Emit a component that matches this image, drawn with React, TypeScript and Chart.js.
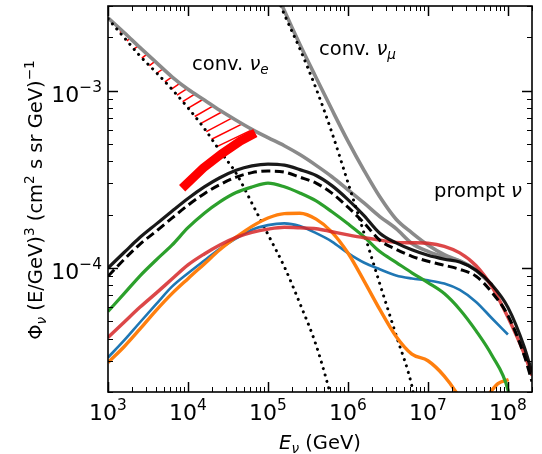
import React, { useEffect, useRef } from 'react';
import { Chart, registerables } from 'chart.js';
Chart.register(...registerables);

// ---------- data (E in GeV, flux Phi * (E/GeV)^3 in (cm^2 s sr GeV)^-1) ----------
const gridE = [1e3, 1.6e3, 2.5e3, 4e3, 6.3e3, 1e4, 1.6e4, 2.5e4, 4e4, 6.3e4, 1e5, 1.6e5, 2.5e5, 4e5, 6.3e5, 1e6, 1.6e6, 2.5e6, 4e6, 6.3e6, 1e7, 1.6e7, 2.5e7, 4e7, 6.3e7, 1e8, 1.6e8, 2e8];

const promptTotal = [1.0e-4, 1.227e-4, 1.485e-4, 1.768e-4, 2.09e-4, 2.466e-4, 2.865e-4, 3.228e-4, 3.555e-4, 3.765e-4, 3.855e-4, 3.8e-4, 3.587e-4, 3.323e-4, 2.913e-4, 2.43e-4, 1.967e-4, 1.57e-4, 1.386e-4, 1.267e-4, 1.18e-4, 1.121e-4, 1.08e-4, 9.72e-5, 8.04e-5, 6.0e-5, 3.59e-5, 2.575e-5];
const promptDashed = [8.98e-5, 1.12e-4, 1.361e-4, 1.612e-4, 1.909e-4, 2.26e-4, 2.626e-4, 2.951e-4, 3.254e-4, 3.45e-4, 3.518e-4, 3.473e-4, 3.254e-4, 3.01e-4, 2.642e-4, 2.203e-4, 1.789e-4, 1.434e-4, 1.275e-4, 1.164e-4, 1.091e-4, 1.036e-4, 9.83e-5, 8.98e-5, 7.29e-5, 5.4e-5, 3.21e-5, 2.29e-5];
const redE = gridE;
const redFlux = [4.06e-5, 4.96e-5, 6.0e-5, 7.22e-5, 8.66e-5, 1.041e-4, 1.2e-4, 1.349e-4, 1.489e-4, 1.589e-4, 1.657e-4, 1.696e-4, 1.685e-4, 1.665e-4, 1.601e-4, 1.538e-4, 1.481e-4, 1.436e-4, 1.395e-4, 1.388e-4, 1.379e-4, 1.326e-4, 1.217e-4, 1.03e-4, 7.85e-5, 5.27e-5, 3.28e-5, 2.48e-5];
const greenE = [1e3, 1.6e3, 2.5e3, 4e3, 6.3e3, 1e4, 1.6e4, 2.5e4, 4e4, 6.3e4, 1e5, 1.6e5, 2.5e5, 4e5, 6.3e5, 1e6, 1.6e6, 2.5e6, 4e6, 6.3e6, 1e7, 1.6e7, 2.5e7, 4e7, 6.3e7, 1e8, 1.12e8];
const greenFlux = [5.69e-5, 7.19e-5, 9.01e-5, 1.11e-4, 1.345e-4, 1.687e-4, 2.037e-4, 2.36e-4, 2.663e-4, 2.861e-4, 3.01e-4, 2.872e-4, 2.65e-4, 2.388e-4, 2.074e-4, 1.775e-4, 1.497e-4, 1.238e-4, 1.077e-4, 9.4e-5, 8.27e-5, 7.18e-5, 5.84e-5, 4.42e-5, 3.22e-5, 2.06e-5, 1.57e-5];
const blueE = [1e3, 1.6e3, 2.5e3, 4e3, 6.3e3, 1e4, 1.6e4, 2.5e4, 4e4, 6.3e4, 1e5, 1.6e5, 2.5e5, 4e5, 6.3e5, 1e6, 1.6e6, 2.5e6, 4e6, 6.3e6, 1e7, 1.6e7, 2.5e7, 4e7, 6.3e7, 1e8];
const blueFlux = [3.13e-5, 3.92e-5, 4.93e-5, 6.25e-5, 7.85e-5, 9.35e-5, 1.103e-4, 1.285e-4, 1.47e-4, 1.644e-4, 1.745e-4, 1.784e-4, 1.723e-4, 1.572e-4, 1.41e-4, 1.214e-4, 1.071e-4, 9.84e-5, 9.07e-5, 8.73e-5, 8.52e-5, 8.17e-5, 7.52e-5, 6.44e-5, 5.21e-5, 4.22e-5];
const orangeE = [1e3, 1.6e3, 2.5e3, 4e3, 6.3e3, 1e4, 1.6e4, 2.5e4, 4e4, 6.3e4, 1e5, 1.6e5, 2.5e5, 4e5, 6.3e5, 1e6, 1.6e6, 2.5e6, 4e6, 6.3e6, 1e7, 1.6e7, 2.26e7, 3.6e7, 5.3e7, 7.5e7, 1.02e8];
const orangeFlux = [2.93e-5, 3.61e-5, 4.52e-5, 5.77e-5, 7.17e-5, 8.71e-5, 1.055e-4, 1.267e-4, 1.491e-4, 1.716e-4, 1.914e-4, 2.027e-4, 2.035e-4, 1.887e-4, 1.595e-4, 1.215e-4, 8.41e-5, 5.84e-5, 4.11e-5, 3.27e-5, 3.0e-5, 2.46e-5, 1.99e-5, 1.38e-5, 1.84e-5, 2.23e-5, 2.35e-5];
const convNueTotalE = [1e3, 1.6e3, 2.5e3, 4e3, 6.3e3, 1e4, 1.6e4, 2.5e4, 4e4, 6.3e4, 1e5, 1.6e5, 2.5e5, 4e5, 6.3e5, 1e6, 1.6e6, 2.5e6, 4e6, 6.3e6, 1e7, 1.6e7, 2.5e7, 4e7, 6.3e7];
const convNueTotal = [2.575e-3, 2.121e-3, 1.752e-3, 1.443e-3, 1.197e-3, 1.018e-3, 8.86e-4, 7.75e-4, 6.81e-4, 6.05e-4, 5.43e-4, 4.89e-4, 4.36e-4, 3.79e-4, 3.27e-4, 2.76e-4, 2.32e-4, 1.95e-4, 1.667e-4, 1.375e-4, 1.24e-4, 1.154e-4, 1.094e-4, 9.72e-5, 8.04e-5];
const convNumuTotalE = [1e5, 1.6e5, 2.5e5, 4e5, 6.3e5, 1e6, 1.6e6, 2.5e6, 4e6, 6.3e6, 1e7, 1.6e7, 2.5e7, 4e7, 6.3e7];
const convNumuTotal = [4.62e-3, 2.83e-3, 1.826e-3, 1.183e-3, 7.82e-4, 5.19e-4, 3.53e-4, 2.52e-4, 1.884e-4, 1.58e-4, 1.349e-4, 1.19e-4, 1.097e-4, 9.72e-5, 8.04e-5];
const convNueE = [1e3, 1.6e3, 2.5e3, 4e3, 6.3e3, 1e4, 1.6e4, 2.5e4, 4e4, 6.3e4, 1e5, 1.6e5, 2.5e5, 4e5, 6.3e5, 7e5];
const convNue = [2.542e-3, 1.987e-3, 1.572e-3, 1.267e-3, 1.018e-3, 8.0e-4, 6.12e-4, 4.58e-4, 3.42e-4, 2.32e-4, 1.546e-4, 1.018e-4, 6.33e-5, 3.67e-5, 1.81e-5, 1.5e-5];
const convNumuE = [1e5, 1.6e5, 2.5e5, 4e5, 6.3e5, 1e6, 1.6e6, 2.5e6, 4e6, 6.3e6, 7e6];
const convNumu = [4.5e-3, 2.695e-3, 1.723e-3, 1.025e-3, 5.8e-4, 3.03e-4, 1.556e-4, 8.15e-5, 4.18e-5, 2.16e-5, 1.68e-5];
const measuredE = [8.45e3, 1.55e4, 2.61e4, 4.51e4, 6.95e4];
const measuredFlux = [2.82e-4, 3.66e-4, 4.39e-4, 5.2e-4, 5.77e-4];
const hatchTopE = [1.16e3, 1.5e3, 1.89e3, 2.38e3, 3.08e3, 3.88e3, 4.89e3, 6.34e3, 7.99e3, 9.77e3, 1.23e4, 1.55e4, 2.07e4, 2.68e4, 3.58e4, 4.78e4, 6.38e4];

const xTickExps = [3, 4, 5, 6, 7, 8];
const yTickExps = [-4, -3];
const xMin = 1e3, xMax = 2e8, yMin = 2e-5, yMax = 3e-3;

// ---------- helpers ----------
const FAM = '"DejaVu Sans", sans-serif';
type Run = { t: string; s: number; r?: number; i?: boolean };
const fontOf = (r: Run) => `${r.i ? 'italic ' : ''}${r.s}px ${FAM}`;
function runsWidth(ctx: CanvasRenderingContext2D, runs: Run[]) {
  let w = 0;
  for (const r of runs) { ctx.font = fontOf(r); w += ctx.measureText(r.t).width; }
  return w;
}
function drawRuns(ctx: CanvasRenderingContext2D, runs: Run[], x: number, y: number) {
  let cx = x;
  for (const r of runs) {
    ctx.font = fontOf(r);
    ctx.fillText(r.t, cx, y - (r.r || 0));
    cx += ctx.measureText(r.t).width;
  }
}
function interp(xs: number[], ys: number[], x: number) {
  if (x <= xs[0]) return ys[0];
  for (let i = 1; i < xs.length; i++) {
    if (x <= xs[i]) { const t = (x - xs[i - 1]) / (xs[i] - xs[i - 1]); return ys[i - 1] + t * (ys[i] - ys[i - 1]); }
  }
  return ys[ys.length - 1];
}
const pts = (E: number[], P: number[]) => E.map((e, i) => ({ x: e, y: P[i] }));

const hatchPlugin = {
  id: 'hatch',
  beforeDatasetsDraw(chart: any) {
    const { ctx, chartArea: a, scales } = chart;
    const xs = scales.x, ys = scales.y;
    const gx = convNueTotalE.map((e) => xs.getPixelForValue(e));
    const gy = convNueTotal.map((v) => ys.getPixelForValue(v));
    const dx = convNueE.map((e) => xs.getPixelForValue(e));
    const dy = convNue.map((v) => ys.getPixelForValue(v));
    ctx.save();
    ctx.beginPath(); ctx.rect(a.left, a.top, a.right - a.left, a.bottom - a.top); ctx.clip();
    ctx.strokeStyle = '#ff0000'; ctx.lineWidth = 1.5;
    hatchTopE.forEach((e, i) => {
      const px = xs.getPixelForValue(e);
      const py = interp(gx, gy, px);
      const m = 0.85 + (0.48 - 0.85) * (i / (hatchTopE.length - 1));
      let qx = px, qy = py;
      for (let s = 0; s < 200; s += 0.25) {
        const xx = px - s, yy = py + m * s;
        if (yy >= interp(dx, dy, xx)) { qx = xx; qy = yy; break; }
      }
      ctx.beginPath(); ctx.moveTo(qx, qy); ctx.lineTo(px, py); ctx.stroke();
    });
    ctx.restore();
  },
};

const decorPlugin = {
  id: 'decor',
  afterDatasetsDraw(chart: any) {
    const { ctx, chartArea: a, scales } = chart;
    const xs = scales.x, ys = scales.y;
    ctx.save();
    ctx.strokeStyle = '#000'; ctx.fillStyle = '#000';
    const tick = (x1: number, y1: number, x2: number, y2: number, w: number) => {
      ctx.lineWidth = w; ctx.beginPath(); ctx.moveTo(x1, y1); ctx.lineTo(x2, y2); ctx.stroke();
    };
    for (let n = 3; n <= 8; n++) {
      for (let k = 1; k <= 9; k++) {
        const v = k * Math.pow(10, n);
        if (v < xMin || v > xMax) continue;
        const px = Math.round(xs.getPixelForValue(v)) + 0.5;
        const len = k === 1 ? 10 : 5, w = k === 1 ? 1.5 : 1;
        tick(px, a.bottom, px, a.bottom - len, w);
        tick(px, a.top, px, a.top + len, w);
      }
    }
    for (let n = -5; n <= -3; n++) {
      for (let k = 1; k <= 9; k++) {
        const v = k * Math.pow(10, n);
        if (v < yMin * 0.999 || v > yMax * 1.001) continue;
        const py = Math.round(ys.getPixelForValue(v)) + 0.5;
        const len = k === 1 ? 10 : 5, w = k === 1 ? 1.5 : 1;
        tick(a.left, py, a.left + len, py, w);
        tick(a.right, py, a.right - len, py, w);
      }
    }
    ctx.lineWidth = 1.6;
    ctx.strokeRect(a.left, a.top, a.right - a.left, a.bottom - a.top);
    ctx.textAlign = 'left'; ctx.textBaseline = 'alphabetic';
    const TF = 22, SF = 15.4;
    xTickExps.forEach((p) => {
      const runs: Run[] = [{ t: '10', s: TF }, { t: String(p), s: SF, r: 10 }];
      const w = runsWidth(ctx, runs);
      drawRuns(ctx, runs, xs.getPixelForValue(Math.pow(10, p)) - w / 2, 420);
    });
    yTickExps.forEach((p) => {
      const runs: Run[] = [{ t: '10', s: TF }, { t: '\u2212' + String(-p), s: SF, r: 10 }];
      const w = runsWidth(ctx, runs);
      drawRuns(ctx, runs, a.left - 6 - w, ys.getPixelForValue(Math.pow(10, p)) + 11);
    });
    const xt: Run[] = [{ t: 'E', s: 19.5, i: true }, { t: '\u03bd', s: 13.6, r: -4, i: true }, { t: ' (GeV)', s: 19.5 }];
    const xw = runsWidth(ctx, xt);
    drawRuns(ctx, xt, (a.left + a.right) / 2 - xw / 2, 449);
    const yt: Run[] = [
      { t: '\u03a6', s: 19.5 }, { t: '\u03bd', s: 13.6, r: -4, i: true }, { t: ' (E/GeV)', s: 19.5 }, { t: '3', s: 13.6, r: 8 },
      { t: ' (cm', s: 19.5 }, { t: '2', s: 13.6, r: 8 }, { t: ' s sr GeV)', s: 19.5 }, { t: '\u22121', s: 13.6, r: 8 },
    ];
    const yw = runsWidth(ctx, yt);
    ctx.save();
    ctx.translate(42, 200); ctx.rotate(-Math.PI / 2);
    drawRuns(ctx, yt, -yw / 2, 0);
    ctx.restore();
    const AF = 19.5, ASF = 13.6;
    drawRuns(ctx, [{ t: 'conv. ', s: AF }, { t: '\u03bd', s: AF, i: true }, { t: 'e', s: ASF, r: -4, i: true }], 192, 70);
    drawRuns(ctx, [{ t: 'conv. ', s: AF }, { t: '\u03bd', s: AF, i: true }, { t: '\u03bc', s: ASF, r: -4, i: true }], 319, 55);
    drawRuns(ctx, [{ t: 'prompt ', s: AF }, { t: '\u03bd', s: AF, i: true }], 434, 197);
    ctx.restore();
  },
};

function line(label: string, data: any[], color: string, width: number, order: number, extra: any = {}) {
  return {
    label, data, borderColor: color, backgroundColor: color, borderWidth: width, pointRadius: 0,
    fill: false, cubicInterpolationMode: 'monotone', order, clip: 0, ...extra,
  };
}

export default function App() {
  const ref = useRef<HTMLCanvasElement>(null);
  useEffect(() => {
    const gray = 'rgb(138,138,138)';
    const chart = new Chart(ref.current as HTMLCanvasElement, {
      type: 'line',
      data: {
        datasets: [
          line('conv. nu_mu total', pts(convNumuTotalE, convNumuTotal), gray, 3.6, 20),
          line('conv. nu_e total', pts(convNueTotalE, convNueTotal), gray, 3.6, 20),
          line('conv. nu_e', pts(convNueE, convNue), '#000', 3, 18, { borderDash: [0.1, 6.6], borderCapStyle: 'round' }),
          line('conv. nu_mu', pts(convNumuE, convNumu), '#000', 3, 18, { borderDash: [0.1, 6.6], borderCapStyle: 'round' }),
          line('measured', pts(measuredE, measuredFlux), '#ff0000', 9, 16, { cubicInterpolationMode: 'default', tension: 0 }),
          line('blue', pts(blueE, blueFlux), '#1f77b4', 2.6, 12),
          line('orange', pts(orangeE, orangeFlux), '#ff7f0e', 3.4, 11),
          line('green', pts(greenE, greenFlux), '#2ca02c', 3.2, 10),
          line('red', pts(redE, redFlux), 'rgba(214,39,40,0.85)', 3.4, 9),
          line('prompt dashed', pts(gridE, promptDashed), '#000', 3, 8, { borderDash: [9, 4.5] }),
          line('prompt total', pts(gridE, promptTotal), 'rgba(0,0,0,0.9)', 3.2, 7),
        ],
      },
      options: {
        animation: false,
        responsive: false,
        devicePixelRatio: 1,
        layout: { padding: { left: 108, right: 10, top: 6, bottom: 62 } },
        scales: {
          x: { type: 'logarithmic', min: xMin, max: xMax, display: false },
          y: { type: 'logarithmic', min: yMin, max: yMax, display: false },
        },
        plugins: { legend: { display: false }, tooltip: { enabled: false } },
        events: [],
      } as any,
      plugins: [hatchPlugin, decorPlugin],
    });
    return () => chart.destroy();
  }, []);
  return (
    <div style={{ position: 'fixed', left: 0, top: 0, width: 542, height: 454, background: '#fff' }}>
      <canvas ref={ref} width={542} height={454} style={{ display: 'block', width: 542, height: 454 }} />
    </div>
  );
}
